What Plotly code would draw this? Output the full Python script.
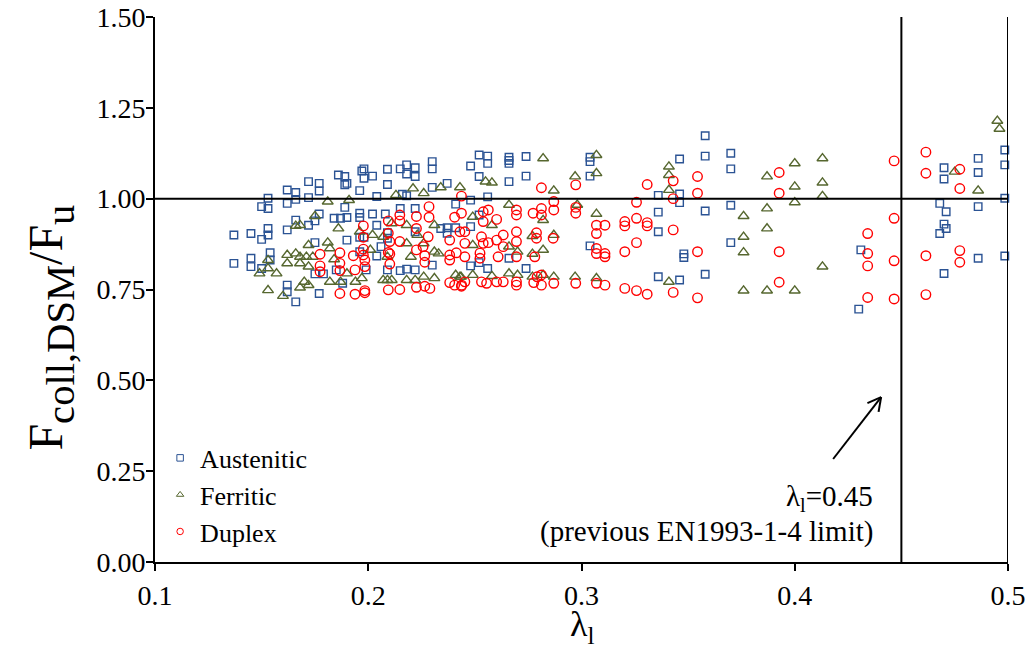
import numpy as np
import plotly.graph_objects as go

# ---------------- data ----------------
aus_lambda = [
    0.162, 0.166, 0.153, 0.162, 0.150, 0.153, 0.166, 0.166, 0.137, 0.145, 0.153, 0.153,
    0.150, 0.162, 0.137, 0.145, 0.145, 0.150, 0.154, 0.154, 0.162, 0.162, 0.166,
    0.172, 0.177, 0.177, 0.172, 0.186, 0.189, 0.189, 0.190, 0.197, 0.198, 0.198, 0.202,
    0.209, 0.209, 0.215, 0.218, 0.218, 0.222, 0.222, 0.230, 0.230, 0.230, 0.237, 0.196,
    0.204, 0.216, 0.218, 0.189, 0.177, 0.172, 0.175, 0.184, 0.187, 0.190, 0.196, 0.196,
    0.202, 0.204, 0.208, 0.215, 0.222, 0.241, 0.237, 0.241, 0.237, 0.196, 0.198, 0.190,
    0.209, 0.209, 0.222, 0.175, 0.175, 0.179, 0.185, 0.188, 0.199, 0.209, 0.215, 0.218,
    0.222, 0.230, 0.177, 0.204, 0.234, 0.206, 0.196,
    0.252, 0.256, 0.256, 0.248, 0.266, 0.266, 0.266, 0.274, 0.252, 0.266, 0.274, 0.304,
    0.304, 0.304, 0.248, 0.256, 0.252, 0.248, 0.266, 0.248, 0.252, 0.256, 0.274, 0.304,
    0.358, 0.358, 0.346, 0.370, 0.370, 0.336, 0.346, 0.346, 0.336, 0.358, 0.370, 0.336,
    0.348, 0.348, 0.370, 0.336, 0.346, 0.358,
    0.431, 0.430, 0.468, 0.471, 0.470, 0.470, 0.470, 0.471, 0.468, 0.470, 0.486, 0.486,
    0.486, 0.486, 0.4985, 0.4985, 0.4985, 0.4985,
]
aus_ratio = [
    1.024, 1.017, 1.001, 0.987, 0.978, 0.973, 0.998, 0.941, 0.900, 0.904, 0.918, 0.900,
    0.888, 0.914, 0.822, 0.836, 0.813, 0.808, 0.851, 0.831, 0.762, 0.744, 0.716,
    1.047, 1.042, 1.021, 1.003, 1.065, 1.061, 1.038, 1.042, 1.076, 1.082, 1.056, 1.062,
    1.081, 1.039, 1.082, 1.093, 1.068, 1.085, 1.061, 1.102, 1.082, 1.031, 1.042, 1.022,
    1.006, 1.012, 1.008, 0.976, 0.958, 0.927, 0.939, 0.946, 0.946, 0.948, 0.960, 0.948,
    0.958, 0.927, 0.958, 0.973, 0.973, 0.985, 0.920, 0.920, 0.905, 0.894, 0.894, 0.886,
    0.906, 0.891, 0.909, 0.879, 0.793, 0.793, 0.804, 0.767, 0.804, 0.804, 0.802, 0.806,
    0.804, 0.817, 0.739, 0.842, 0.918, 0.868, 0.854,
    1.120, 1.117, 1.097, 1.090, 1.114, 1.105, 1.097, 1.116, 1.061, 1.047, 1.062, 1.114,
    1.102, 1.062, 0.996, 1.005, 0.955, 0.923, 0.836, 0.815, 0.824, 0.808, 0.808, 0.870,
    1.173, 1.117, 1.109, 1.125, 1.082, 1.009, 1.013, 0.989, 0.963, 0.966, 0.982, 0.909,
    0.848, 0.838, 0.879, 0.785, 0.776, 0.792,
    0.859, 0.696, 0.987, 0.964, 1.085, 1.054, 0.930, 0.918, 0.904, 0.794, 1.111, 1.072,
    0.978, 0.836, 1.134, 1.093, 1.001, 0.842,
]

fer_lambda = [
    0.166, 0.162, 0.166, 0.153, 0.162, 0.168, 0.149, 0.157, 0.153, 0.153, 0.160, 0.168,
    0.181, 0.191, 0.221, 0.226, 0.213, 0.234, 0.243, 0.175, 0.168, 0.186, 0.181, 0.182,
    0.172, 0.168, 0.171, 0.174, 0.172, 0.170, 0.172, 0.182, 0.187, 0.194, 0.197, 0.207,
    0.209, 0.211, 0.218, 0.222, 0.226, 0.231, 0.241, 0.243, 0.196, 0.202, 0.207, 0.211,
    0.218, 0.223, 0.231, 0.231, 0.233, 0.226, 0.220, 0.218, 0.184, 0.190, 0.201, 0.209,
    0.255, 0.258, 0.282, 0.297, 0.307, 0.307, 0.287, 0.266, 0.298, 0.307, 0.249, 0.258,
    0.282, 0.249, 0.266, 0.270, 0.277, 0.287, 0.282, 0.277, 0.2435, 0.249, 0.258, 0.266,
    0.270, 0.277, 0.282, 0.287, 0.297, 0.307,
    0.341, 0.341, 0.341, 0.341, 0.376, 0.376, 0.376, 0.376, 0.387, 0.387, 0.387, 0.387,
    0.400, 0.400, 0.400, 0.400,
    0.413, 0.413, 0.413, 0.413, 0.475, 0.486, 0.495, 0.496,
]
fer_ratio = [
    0.925, 0.845, 0.849, 0.831, 0.822, 0.822, 0.794, 0.794, 0.808, 0.748, 0.732, 0.755,
    0.992, 0.996, 1.028, 1.015, 1.010, 1.031, 1.031, 0.952, 0.927, 0.918, 0.879, 0.863,
    0.872, 0.840, 0.840, 0.840, 0.813, 0.771, 0.762, 0.771, 0.771, 0.771, 0.781, 0.776,
    0.776, 0.776, 0.776, 0.776, 0.785, 0.781, 0.790, 0.785, 0.909, 0.900, 0.895, 0.932,
    0.927, 0.900, 0.927, 0.854, 0.849, 0.877, 0.840, 0.877, 0.833, 0.794, 0.859, 0.840,
    1.047, 1.044, 1.111, 1.061, 1.120, 1.070, 1.022, 0.983, 0.983, 0.958, 0.950, 0.927,
    0.941, 0.872, 0.868, 0.854, 0.897, 0.900, 0.859, 0.848, 0.785, 0.790, 0.787, 0.794,
    0.790, 0.785, 0.790, 0.785, 0.785, 0.781,
    1.088, 1.065, 1.024, 0.771, 0.952, 0.895, 0.852, 0.747, 1.061, 0.973, 0.918, 0.747,
    1.097, 1.033, 0.990, 0.747,
    1.111, 1.044, 1.007, 0.813, 1.074, 1.022, 1.214, 1.192,
]

dup_lambda = [
    0.2437, 0.2285, 0.2285, 0.2226, 0.2226, 0.2148, 0.2148, 0.2094, 0.2094, 0.1977, 0.1977, 0.2101,
    0.2148, 0.2226, 0.2257, 0.2281, 0.1774, 0.1774, 0.1774, 0.1867, 0.1867, 0.1867, 0.1930, 0.1938,
    0.1977, 0.1977, 0.1984, 0.1984, 0.2094, 0.2101, 0.2101, 0.2265, 0.2265, 0.2382, 0.2382, 0.2382,
    0.2430, 0.2413, 0.2405, 0.2437, 0.1867, 0.1938, 0.1984, 0.1984, 0.2094, 0.2148, 0.2226, 0.2265,
    0.2289, 0.2382, 0.2405, 0.2437,
    0.2812, 0.2973, 0.2870, 0.2870, 0.2812, 0.2812, 0.2695, 0.2695, 0.2773, 0.2973, 0.2973, 0.2539,
    0.2563, 0.2539, 0.2602, 0.2453, 0.2695, 0.2633, 0.2531, 0.2453, 0.2539, 0.2563, 0.2633, 0.2602,
    0.2695, 0.2789, 0.2789, 0.2867, 0.2524, 0.2524, 0.2453, 0.2609, 0.2695, 0.2781, 0.3070, 0.3070,
    0.3070, 0.3070, 0.3110, 0.3110, 0.3110, 0.2812, 0.2792, 0.2438, 0.2453, 0.2531, 0.2555, 0.2602,
    0.2633, 0.2695, 0.2695, 0.2776, 0.2812, 0.2870, 0.2973, 0.3070, 0.3110,
    0.3308, 0.3430, 0.3430, 0.3544, 0.3544, 0.3258, 0.3258, 0.3203, 0.3203, 0.3308, 0.3308, 0.3430,
    0.3258, 0.3203, 0.3544, 0.3203, 0.3258, 0.3308, 0.3430, 0.3544, 0.3927, 0.3927, 0.3927, 0.3927,
    0.4342, 0.4342, 0.4342, 0.4342, 0.4466, 0.4466, 0.4466, 0.4466, 0.4615, 0.4615, 0.4615, 0.4615,
    0.4774, 0.4774, 0.4774, 0.4774,
]
dup_ratio = [
    1.007, 0.978, 0.949, 0.951, 0.918, 0.955, 0.939, 0.939, 0.905, 0.925, 0.894, 0.882,
    0.882, 0.859, 0.868, 0.895, 0.847, 0.815, 0.799, 0.851, 0.822, 0.802, 0.843, 0.804,
    0.861, 0.845, 0.831, 0.813, 0.852, 0.848, 0.820, 0.843, 0.825, 0.886, 0.845, 0.831,
    0.909, 0.851, 0.949, 0.960, 0.739, 0.737, 0.747, 0.741, 0.749, 0.750, 0.756, 0.759,
    0.753, 0.769, 0.762, 0.759,
    1.030, 1.038, 0.992, 0.969, 0.973, 0.955, 0.969, 0.955, 0.960, 0.976, 0.960, 0.964,
    0.969, 0.937, 0.943, 0.909, 0.909, 0.900, 0.895, 0.877, 0.877, 0.879, 0.868, 0.886,
    0.882, 0.906, 0.891, 0.891, 0.850, 0.836, 0.840, 0.840, 0.840, 0.840, 0.927, 0.904,
    0.863, 0.849, 0.927, 0.849, 0.840, 0.790, 0.785, 0.762, 0.771, 0.771, 0.767, 0.771,
    0.771, 0.771, 0.762, 0.769, 0.762, 0.767, 0.767, 0.767, 0.762,
    1.039, 1.049, 1.000, 1.061, 1.015, 0.990, 0.946, 0.937, 0.925, 0.934, 0.925, 0.914,
    0.879, 0.854, 0.854, 0.753, 0.747, 0.737, 0.742, 0.727, 1.072, 1.015, 0.854, 0.770,
    0.904, 0.849, 0.815, 0.728, 1.104, 0.946, 0.829, 0.724, 1.128, 1.070, 0.843, 0.736,
    1.081, 1.028, 0.857, 0.825,
]

series_names = ["Austenitic", "Ferritic", "Duplex"]
x_ticks = [0.1, 0.2, 0.3, 0.4, 0.5]
y_ticks = [0.0, 0.25, 0.5, 0.75, 1.0, 1.25, 1.5]
limit_lambda = 0.45        # previous EN1993-1-4 limit
unity_ratio = 1.0
x_range = [0.1, 0.5]
y_range = [0.0, 1.5]

# ---------------- styling ----------------
FONT = "Liberation Serif"
c_aus = "#2B5394"
c_fer = "#56672F"
c_dup = "#FF0000"

fig = go.Figure()

styles = [
    (aus_lambda, aus_ratio, "square-open", c_aus, 7.5),
    (fer_lambda, fer_ratio, "triangle-up-open", c_fer, 9.5),
    (dup_lambda, dup_ratio, "circle-open", c_dup, 9.5),
]
for name, (xs, ys, sym, col, sz) in zip(series_names, styles):
    fig.add_trace(go.Scatter(
        x=xs, y=ys, mode="markers", name=name, showlegend=False,
        marker=dict(symbol=sym, size=sz, color=col, line=dict(color=col, width=1.4)),
        cliponaxis=False,
    ))
# legend entries (smaller symbols as in the reference legend)
for name, (xs, ys, sym, col, sz) in zip(series_names, styles):
    fig.add_trace(go.Scatter(
        x=[None], y=[None], mode="markers", name=name, showlegend=True,
        marker=dict(symbol=sym, size=6.5, color=col, line=dict(color=col, width=1)),
    ))

# reference lines
line_style = dict(color="black", width=2)
fig.add_shape(type="line", x0=limit_lambda, x1=limit_lambda, y0=y_range[0], y1=y_range[1],
              xref="x", yref="y", line=line_style)
fig.add_shape(type="line", x0=x_range[1], x1=x_range[1], y0=y_range[0], y1=y_range[1],
              xref="x", yref="y", line=line_style)
fig.add_shape(type="line", x0=x_range[0], x1=x_range[1], y0=unity_ratio, y1=unity_ratio,
              xref="x", yref="y", line=line_style)

# arrow pointing to the limit line (open V head)
tail = np.array([0.418, 0.2835])
head = np.array([0.4405, 0.454])
px_x = 853 / (x_range[1] - x_range[0])
px_y = 545 / (y_range[1] - y_range[0])
d = np.array([(head[0] - tail[0]) * px_x, (head[1] - tail[1]) * px_y])
d = d / np.linalg.norm(d)
wing = 15
arrow_style = dict(color="black", width=2)
fig.add_shape(type="line", x0=tail[0], y0=tail[1], x1=head[0], y1=head[1], line=arrow_style)
for ang in (np.radians(28), -np.radians(28)):
    rot = np.array([[np.cos(ang), -np.sin(ang)], [np.sin(ang), np.cos(ang)]])
    w = rot @ (-d) * wing
    fig.add_shape(type="line", x0=head[0], y0=head[1],
                  x1=head[0] + w[0] / px_x, y1=head[1] + w[1] / px_y, line=arrow_style)

fig.add_annotation(x=0.4376, y=0.176, xref="x", yref="y", xanchor="right", yanchor="middle",
                   text="λ<sub>l</sub>=0.45", showarrow=False,
                   font=dict(family=FONT, size=29, color="black"))
fig.add_annotation(x=0.4376, y=0.083, xref="x", yref="y", xanchor="right", yanchor="middle",
                   text="(previous EN1993-1-4 limit)", showarrow=False,
                   font=dict(family=FONT, size=29, color="black"))

# axis titles placed as annotations for exact position
fig.add_annotation(x=0.5, y=-0.118, xref="paper", yref="paper", xanchor="center", yanchor="middle",
                   text="λ<sub>l</sub>", showarrow=False,
                   font=dict(family=FONT, size=36, color="black"))

y_title = ("<span style='font-size:48px'>F</span><sub>coll,DSM</sub>"
           "<span style='font-size:48px'>/F</span><sub>u</sub>")
fig.add_annotation(x=-0.122, y=0.43, xref="paper", yref="paper", xanchor="center", yanchor="middle",
                   text=y_title, textangle=-90, showarrow=False,
                   font=dict(family=FONT, size=58, color="black"))

fig.update_layout(
    width=1027, height=661,
    margin=dict(l=155, r=19, t=17, b=99, autoexpand=False),
    plot_bgcolor="white", paper_bgcolor="white",
    font=dict(family=FONT, size=28, color="black"),
    showlegend=True,
    legend=dict(x=0.006, y=0.012, xanchor="left", yanchor="bottom",
                bgcolor="rgba(0,0,0,0)", font=dict(family=FONT, size=26, color="black"),
                tracegroupgap=0, itemwidth=30),
    xaxis=dict(range=x_range, tickvals=x_ticks, tickformat=".1f", automargin=False,
               ticks="outside", ticklen=7, tickwidth=1.5, tickcolor="black",
               showline=True, linewidth=2, linecolor="black", mirror=False,
               showgrid=False, zeroline=False,
               tickfont=dict(family=FONT, size=28, color="black")),
    yaxis=dict(range=y_range, tickvals=y_ticks, tickformat=".2f", automargin=False,
               ticks="outside", ticklen=7, tickwidth=1.5, tickcolor="black",
               showline=True, linewidth=2, linecolor="black", mirror=False,
               showgrid=False, zeroline=False, ticklabelstandoff=-5,
               tickfont=dict(family=FONT, size=28, color="black")),
)

fig.write_html("out.html", post_script="document.body.style.margin='0';",
               config={"displayModeBar": False})
